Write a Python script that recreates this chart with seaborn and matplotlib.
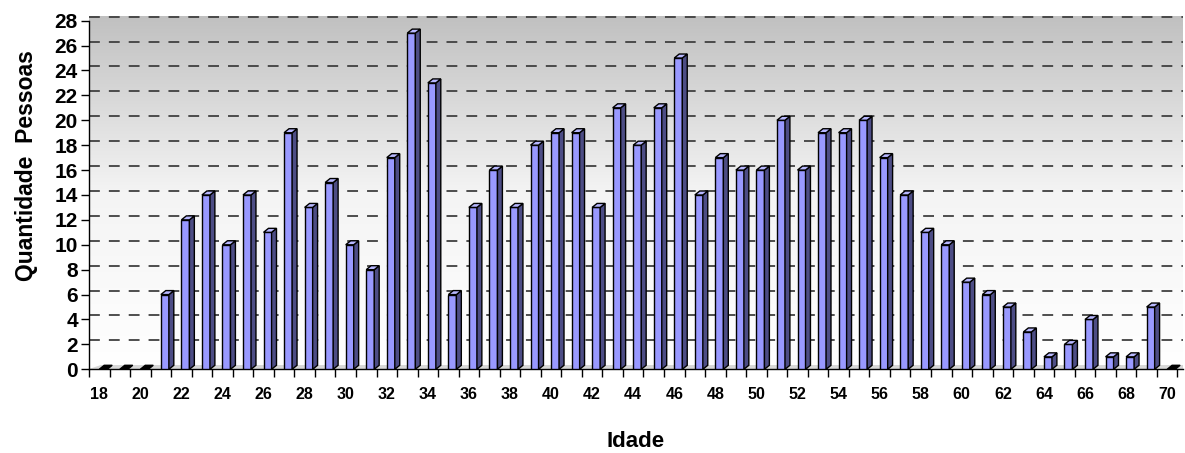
import numpy as np
import pandas as pd
import matplotlib
matplotlib.use("Agg")
import matplotlib.pyplot as plt
from matplotlib.patches import Polygon
from matplotlib.colors import LinearSegmentedColormap
import seaborn as sns

ages = list(range(18, 71))
counts = [0, 0, 0, 6, 12, 14, 10, 14, 11, 19, 13, 15, 10, 8, 17, 27, 23, 6, 13, 16,
          13, 18, 19, 19, 13, 21, 18, 21, 25, 14, 17, 16, 16, 20, 16, 19, 19, 20, 17,
          14, 11, 10, 7, 6, 5, 3, 1, 2, 4, 1, 1, 5, 0]
yticks = list(range(0, 29, 2))
xlabel = "Idade"
ylabel = "Quantidade  Pessoas"

df = pd.DataFrame({"Idade": [str(a) for a in ages], "Qtd": counts})

sns.set_theme(style="white")
plt.rcParams["font.family"] = ["Liberation Sans", "DejaVu Sans"]
plt.rcParams["font.weight"] = "bold"
plt.rcParams["text.color"] = "black"
plt.rcParams["axes.labelcolor"] = "black"
plt.rcParams["xtick.color"] = "black"
plt.rcParams["ytick.color"] = "black"

fig = plt.figure(figsize=(11.85, 4.53), dpi=100)
ax = fig.add_axes([0.0751, 0.1848, 0.9232, 0.7806])

front = "#9999FF"
side = "#4D4D85"
topc = "#B8B8FF"
bw = 0.39
dx = 0.24
dy = 0.32

sns.barplot(data=df, x="Idade", y="Qtd", color=front, width=bw, saturation=1,
            edgecolor="black", linewidth=1.0, ax=ax, zorder=3)

for p in ax.patches:
    p.set_x(p.get_x() + bw / 2)
    x0 = p.get_x()
    w = p.get_width()
    h = p.get_height()
    if h > 0:
        ax.add_patch(Polygon([(x0 + w, 0), (x0 + w + dx, dy), (x0 + w + dx, h + dy), (x0 + w, h)],
                             closed=True, facecolor=side, edgecolor="black", lw=1.0, zorder=3))
        ax.add_patch(Polygon([(x0, h), (x0 + w, h), (x0 + w + dx, h + dy), (x0 + dx, h + dy)],
                             closed=True, facecolor=topc, edgecolor="black", lw=1.0, zorder=3))
    else:
        p.set_visible(False)
        ax.add_patch(Polygon([(x0, 0), (x0 + w, 0), (x0 + w + dx, dy), (x0 + dx, dy)],
                             closed=True, facecolor="black", edgecolor="black", lw=1.0, zorder=3))

n = len(ages)
ax.set_xlim(-0.5, n - 0.5 + 0.27)
ax.set_ylim(0, 28.4)

# gradient back wall
cmap = LinearSegmentedColormap.from_list("wall", ["#FFFFFF", "#F4F4F4", "#C0C0C0"])
grad = np.linspace(0, 1, 256).reshape(-1, 1)
ax.imshow(grad, cmap=cmap, origin="lower", aspect="auto",
          extent=(-0.5, n - 0.5 + 0.27, 0, 28.4), zorder=0)
# floor
ax.add_patch(Polygon([(-0.5, 0), (n - 0.5 + 0.27, 0), (n - 0.5 + 0.27, dy), (-0.5 + 0.6, dy)],
                     closed=True, facecolor="#D8D8D8", edgecolor="none", zorder=1))

ax.set_yticks(yticks)
ax.set_yticklabels([str(v) for v in yticks], fontsize=15, fontweight="bold", color="black")
for v in yticks[1:]:
    ax.axhline(v + dy, color="#404040", lw=1.3, ls=(0, (6, 5)), zorder=2)

ax.set_xticks(range(n))
ax.set_xticklabels([str(a) if (a % 2 == 0) else "" for a in ages], fontsize=11.5,
                   fontweight="bold", color="black")
ax.set_xticks(np.arange(-0.5, n, 1.0), minor=True)
ax.tick_params(axis="x", which="major", length=0, pad=13)
ax.tick_params(axis="x", which="minor", length=6, width=1, color="black", direction="out", bottom=True)
ax.tick_params(axis="y", length=6, width=1, color="black", direction="out", left=True, pad=2)

for s in ["top", "right"]:
    ax.spines[s].set_visible(False)
ax.spines["left"].set_color("black")
ax.spines["bottom"].set_color("black")
ax.spines["left"].set_linewidth(1)
ax.spines["bottom"].set_linewidth(1)
ax.spines["left"].set_bounds(0, 28)

ax.set_xlabel(xlabel, fontsize=16, fontweight="bold", color="black")
ax.set_ylabel(ylabel, fontsize=16.5, fontweight="bold", color="black")
ax.xaxis.set_label_coords(0.5, -0.175)
ax.yaxis.set_label_coords(-0.047, 0.575)

fig.savefig("out.png", dpi=100)
